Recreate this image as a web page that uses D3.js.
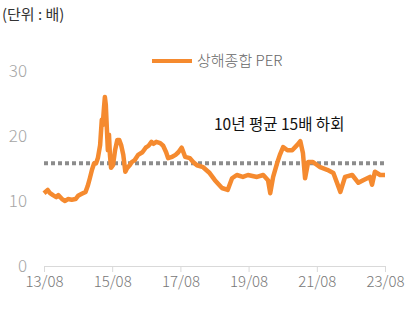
<!DOCTYPE html>
<html>
<head>
<meta charset="utf-8">
<script src="https://cdn.jsdelivr.net/npm/d3@7"></script>
<style>
  body { margin: 0; background: #fff; }
  text { font-family: "Noto Sans CJK KR", "Noto Sans", sans-serif; }
</style>
</head>
<body>
<svg id="chart" width="416" height="310"></svg>
<script>
// 상해종합 PER (배)
const perDates = [
  '2013-08-01', '2013-09-10', '2013-10-05', '2013-11-05', '2013-12-10', '2014-01-01',
  '2014-02-10', '2014-03-15', '2014-04-15', '2014-05-25', '2014-07-05', '2014-08-01',
  '2014-09-10', '2014-10-20', '2014-11-12', '2014-12-05', '2014-12-28', '2015-01-20',
  '2015-02-10', '2015-03-01', '2015-03-25', '2015-04-12', '2015-04-22', '2015-05-05',
  '2015-05-15', '2015-05-25', '2015-06-06', '2015-06-16', '2015-06-28', '2015-07-08',
  '2015-07-20', '2015-08-10', '2015-09-01', '2015-09-25', '2015-10-15', '2015-11-05',
  '2015-11-28', '2015-12-20', '2016-01-10', '2016-02-05', '2016-02-28', '2016-03-30',
  '2016-05-05', '2016-06-20', '2016-07-25', '2016-08-25', '2016-09-25', '2016-10-15',
  '2016-11-15', '2016-12-28', '2017-01-28', '2017-03-01', '2017-03-22', '2017-05-05',
  '2017-06-10', '2017-07-10', '2017-08-15', '2017-09-20', '2017-11-10', '2017-12-15',
  '2018-01-25', '2018-04-01', '2018-06-10', '2018-08-05', '2018-10-20', '2018-12-20',
  '2019-02-05', '2019-03-28', '2019-06-01', '2019-07-25', '2019-10-30', '2020-01-05',
  '2020-02-25', '2020-03-20', '2020-04-20', '2020-06-01', '2020-07-01', '2020-08-05',
  '2020-09-20', '2020-11-10', '2021-01-01', '2021-02-05', '2021-03-05', '2021-03-28',
  '2021-04-30', '2021-06-20', '2021-09-05', '2021-11-20', '2022-01-25', '2022-04-10',
  '2022-05-30', '2022-08-15', '2022-10-20', '2022-12-10', '2023-02-20', '2023-03-15',
  '2023-04-15', '2023-06-10', '2023-08-01'
]
const perValues = [
  11.2, 11.7, 11.2, 10.9, 10.6, 10.9,
  10.3, 10.0, 10.3, 10.2, 10.3, 10.8,
  11.1, 11.4, 12.3, 13.5, 14.8, 15.8,
  15.8, 16.6, 18.6, 22.5, 21.7, 24.3,
  26.0, 24.8, 20.9, 17.8, 20.2, 17.1,
  15.1, 15.5, 17.8, 19.4, 19.4, 18.6,
  17.1, 14.5, 15.1, 15.5, 16.0, 16.3,
  17.1, 17.5, 18.2, 18.5, 19.1, 18.8,
  19.1, 18.9, 18.5, 17.5, 16.6, 16.8,
  17.1, 17.5, 18.2, 16.8, 16.6, 16.0,
  15.5, 15.2, 14.3, 13.2, 12.0, 11.7,
  13.5, 14.0, 13.7, 14.0, 13.7, 14.0,
  13.2, 11.2, 13.7, 15.8, 17.1, 18.3,
  17.8, 17.8, 18.6, 19.2, 17.4, 13.5,
  16.0, 16.0, 15.2, 14.8, 14.3, 11.4,
  13.7, 14.0, 12.8, 13.2, 13.7, 12.5,
  14.5, 14.0, 14.0
]
const avgValue = 15.8
const yTicks = [0, 10, 20, 30]
const xTickLabels = ['13/08', '15/08', '17/08', '19/08', '21/08', '23/08']

const parse = d3.timeParse('%Y-%m-%d')
const series = perDates.map((d, i) => ({ date: parse(d), value: perValues[i] }))
const tickDates = xTickLabels.map(s => new Date(2000 + +s.slice(0, 2), +s.slice(3) - 1, 1))

const svg = d3.select('#chart')
const margin = { left: 44, right: 31, top: 71, bottom: 44 }
const W = 416, H = 310

const x = d3.scaleTime()
    .domain([tickDates[0], tickDates[tickDates.length - 1]])
    .range([margin.left, W - margin.right])
const y = d3.scaleLinear()
    .domain([0, 30])
    .range([H - margin.bottom, margin.top])

// unit label
svg.append('text')
    .attr('x', 2).attr('y', 20)
    .attr('font-size', 15).attr('fill', '#333')
    .text('(단위 : 배)')

// y labels
svg.selectAll('.ylab')
    .data(yTicks)
    .enter()
    .append('text')
    .attr('class', 'ylab')
    .attr('x', 27)
    .attr('y', d => y(d))
    .attr('dy', '0.36em')
    .attr('text-anchor', 'end')
    .attr('font-size', 17)
    .attr('font-weight', 300)
    .attr('fill', '#a6a6a6')
    .text(d => d)

// x axis
const xAxis = d3.axisBottom(x)
    .tickValues(tickDates)
    .tickSize(6)
    .tickFormat((d, i) => xTickLabels[i])
const gx = svg.append('g')
    .attr('transform', `translate(0,${y(0)})`)
    .call(xAxis)
gx.select('.domain').attr('stroke', '#d9d9d9')
gx.selectAll('.tick line').attr('stroke', '#d9d9d9')
gx.selectAll('.tick text')
    .attr('y', 10)
    .attr('font-size', 15)
    .attr('font-weight', 300)
    .attr('fill', '#777')
    .attr('font-family', '"Noto Sans CJK KR", "Noto Sans", sans-serif')

// 10-year average
svg.append('line')
    .attr('x1', x(tickDates[0]))
    .attr('x2', x(tickDates[tickDates.length - 1]))
    .attr('y1', y(avgValue))
    .attr('y2', y(avgValue))
    .attr('stroke', '#8c8c8c')
    .attr('stroke-width', 4)
    .attr('stroke-dasharray', '4 3')

// PER line
const line = d3.line()
    .x(d => x(d.date))
    .y(d => y(d.value))
svg.append('path')
    .datum(series)
    .attr('fill', 'none')
    .attr('stroke', '#f58a2f')
    .attr('stroke-width', 4.5)
    .attr('stroke-linejoin', 'round')
    .attr('d', line)

// legend
svg.append('line')
    .attr('x1', 152).attr('x2', 192)
    .attr('y1', 61).attr('y2', 61)
    .attr('stroke', '#f58a2f')
    .attr('stroke-width', 4)
svg.append('text')
    .attr('x', 197).attr('y', 61)
    .attr('dy', '0.36em')
    .attr('font-size', 15)
    .attr('font-weight', 300)
    .attr('fill', '#666')
    .text('상해종합 PER')

// annotation
svg.append('text')
    .attr('x', 214).attr('y', 124)
    .attr('dy', '0.36em')
    .attr('font-size', 15.5)
    .attr('fill', '#111')
    .text('10년 평균 15배 하회')
</script>
</body>
</html>
